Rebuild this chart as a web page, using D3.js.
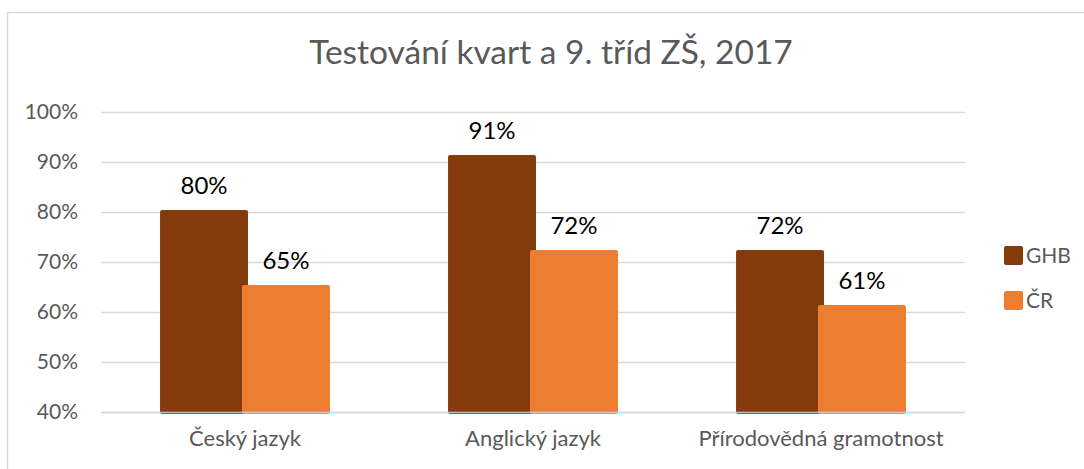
<!DOCTYPE html>
<html>
<head>
<meta charset="utf-8">
<script src="https://cdn.jsdelivr.net/npm/d3@7"></script>
<style>
body{margin:0;background:#fff}
svg{display:block;font-family:Lato,"Open Sans",sans-serif}
</style>
</head>
<body>
<svg id="chart"></svg>
<script>
let categories=['Český jazyk','Anglický jazyk','Přírodovědná gramotnost']
let seriesNames=['GHB','ČR']
let ghbValues=[80.4,91.4,72.4]
let crValues=[65.4,72.4,61.4]
let labelsGHB=['80%','91%','72%']
let labelsCR=['65%','72%','61%']
let yTicks=[40,50,60,70,80,90,100]
let colors=['#843C0C','#ED7D31']

let width=1084
let height=469
let plotLeft=101, plotRight=965, plotTop=112, plotBottom=412

let svg=d3.select('#chart').attr('width',width).attr('height',height)

// chart border
svg.append('rect')
    .attr('x',7.5).attr('y',12.5)
    .attr('width',width).attr('height',height)
    .attr('fill','none').attr('stroke','#d9d9d9').attr('stroke-width',1.5)

svg.append('text')
    .attr('x',551).attr('y',64)
    .attr('text-anchor','middle')
    .attr('fill','#595959')
    .style('font-size','33.5px')
    .text('Testování kvart a 9. tříd ZŠ, 2017')

let yScale=d3.scaleLinear().domain([40,100]).range([plotBottom,plotTop])
let xScale=d3.scaleBand().domain(categories).range([plotLeft,plotRight]).paddingInner(0.41).paddingOuter(0.205)

// gridlines
svg.append('g').selectAll('line')
    .data(yTicks)
    .enter()
    .append('line')
    .attr('x1',plotLeft).attr('x2',plotRight)
    .attr('y1',d=>yScale(d)+0.5).attr('y2',d=>yScale(d)+0.5)
    .attr('stroke','#d9d9d9').attr('stroke-width',1.5)

let yAxis=d3.axisLeft(yScale).tickValues(yTicks).tickFormat(d=>d+'%').tickSize(0).tickPadding(0)
let yG=svg.append('g')
    .attr('transform','translate(78,0)')
    .call(yAxis)
yG.select('.domain').remove()
yG.selectAll('text').attr('fill','#595959').style('font-size','21px').style('font-family','Lato,sans-serif')

let bw=xScale.bandwidth()
let barW=bw*88/170
let step=bw-barW

let rows=[ghbValues,crValues]
let labelRows=[labelsGHB,labelsCR]

rows.forEach((vals,s)=>{
    svg.append('g').selectAll('rect')
        .data(vals)
        .enter()
        .append('rect')
        .attr('x',(d,i)=>xScale(categories[i])+s*step)
        .attr('y',d=>yScale(d))
        .attr('width',barW)
        .attr('height',d=>plotBottom+2-yScale(d))
        .attr('rx',2)
        .attr('fill',colors[s])

    svg.append('g').selectAll('text')
        .data(vals)
        .enter()
        .append('text')
        .attr('x',(d,i)=>xScale(categories[i])+s*step+barW/2)
        .attr('y',d=>yScale(d)-16)
        .attr('text-anchor','middle')
        .attr('fill','#000')
        .style('font-size','24px')
        .text((d,i)=>labelRows[s][i])
})

// bottom gridline over bars
svg.append('line')
    .attr('x1',plotLeft).attr('x2',plotRight)
    .attr('y1',plotBottom+0.5).attr('y2',plotBottom+0.5)
    .attr('stroke','#d9d9d9').attr('stroke-width',1.5).attr('opacity',0.8)

let xAxis=d3.axisBottom(xScale).tickSize(0).tickPadding(0)
let xG=svg.append('g')
    .attr('transform','translate(0,'+(plotBottom+18)+')')
    .call(xAxis)
xG.select('.domain').remove()
xG.selectAll('text').attr('fill','#595959').style('font-size','22px').style('font-family','Lato,sans-serif')

// legend
let legend=svg.append('g').selectAll('g')
    .data(seriesNames)
    .enter()
    .append('g')
    .attr('transform',(d,i)=>'translate(1004,'+(246+i*45)+')')
legend.append('rect')
    .attr('width',19).attr('height',19).attr('rx',2)
    .attr('fill',(d,i)=>colors[i])
legend.append('text')
    .attr('x',22).attr('y',17)
    .attr('fill','#595959')
    .style('font-size','21px')
    .text(d=>d)
</script>
</body>
</html>
